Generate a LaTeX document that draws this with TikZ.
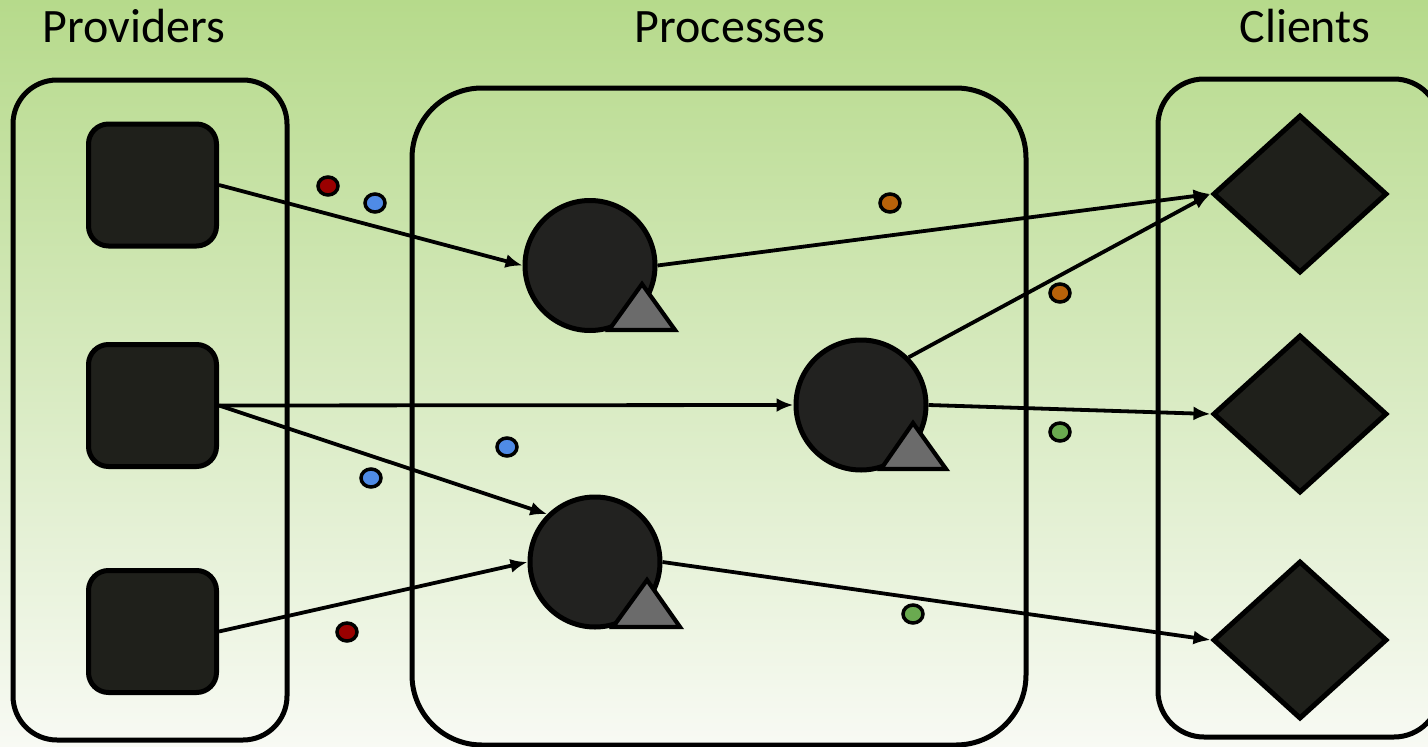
\documentclass[tikz,border=0pt]{standalone}
\usepackage{fontspec}
\setmainfont{Carlito}
\usetikzlibrary{shapes.geometric,arrows.meta}
\definecolor{bgtop}{HTML}{B6DA8B}
\definecolor{bgmid}{HTML}{DCEBC9}
\definecolor{bgbot}{HTML}{F8FAF4}
\definecolor{shapefill}{HTML}{1F201B}
\definecolor{circfill}{HTML}{222220}
\definecolor{trifill}{HTML}{6B6B6B}
\definecolor{dotred}{HTML}{990000}
\definecolor{dotblue}{HTML}{4F8BE6}
\definecolor{dotorange}{HTML}{B8620A}
\definecolor{dotgreen}{HTML}{6AAA50}
\tikzset{
  group/.style={draw=black, line width=5pt},
  provider/.style={draw=black, line width=5pt, fill=shapefill, rectangle, rounded corners=20pt, minimum width=128pt, minimum height=122pt, inner sep=0pt},
  process/.style={draw=black, line width=5pt, fill=circfill, circle, minimum size=130pt, inner sep=0pt},
  client/.style={draw=black, line width=5pt, fill=shapefill, diamond, minimum width=174pt, minimum height=158pt, inner sep=0pt},
  tri/.style={draw=black, line width=4.2pt, fill=trifill, line join=miter},
  flow/.style={draw=black, line width=3.8pt, -{Latex[length=17pt,width=14pt]}},
  msg/.style={draw=black, line width=3.5pt},
  title/.style={font=\fontsize{48}{54}\selectfont, anchor=base, inner sep=0pt}
}
\begin{document}
\begin{tikzpicture}[x=1pt,y=-1pt]
\useasboundingbox (0,0) rectangle (1428,747);
\shade[top color=bgtop, middle color=bgmid, bottom color=bgbot] (0,0) rectangle (1428,747);

% titles
\node[title] (tprov) at (134,42) {Providers};
\node[title] (tproc) at (730,42) {Processes};
\node[title] (tcli) at (1305,42) {Clients};

% group boxes
\draw[group, rounded corners=44pt] (13,80) rectangle (287,740);
\draw[group, rounded corners=70pt] (412,88) rectangle (1026,745);
\draw[group, rounded corners=46pt] (1158,79) rectangle (1440,737);

% providers
\node[provider] (s1) at (152.5,185) {};
\node[provider] (s2) at (152.5,405.5) {};
\node[provider] (s3) at (152.5,631.5) {};

% processes
\node[process] (c1) at (590,265.5) {};
\node[process] (c2) at (861,405) {};
\node[process] (c3) at (595,562) {};

% triangles
\draw[tri] (642,284) -- (675,330) -- (609,330) -- cycle;
\draw[tri] (913,423) -- (946,469) -- (881,469) -- cycle;
\draw[tri] (647,580) -- (680,627) -- (613,627) -- cycle;

% clients
\node[client] (d1) at (1300,194) {};
\node[client] (d2) at (1300,414) {};
\node[client] (d3) at (1300,640) {};

% connectors
\draw[flow] (s1.east) -- (c1.west);
\draw[flow] (s2.east) -- (c2.west);
\draw[flow] (s2.east) -- (c3.north west);
\draw[flow] (s3.east) -- (c3.west);
\draw[flow] (c1.east) -- (d1.west);
\draw[flow] (c2.north east) -- (d1.west);
\draw[flow] (c2.east) -- (d2.west);
\draw[flow] (c3.east) -- (d3.west);

% messages
\filldraw[msg, fill=dotred] (328,186) ellipse (10pt and 9pt);
\filldraw[msg, fill=dotblue] (375,203) ellipse (10pt and 9pt);
\filldraw[msg, fill=dotorange] (890,203) ellipse (10pt and 9pt);
\filldraw[msg, fill=dotorange] (1060,293) ellipse (10pt and 9pt);
\filldraw[msg, fill=dotgreen] (1060,432) ellipse (10pt and 9pt);
\filldraw[msg, fill=dotblue] (507,447) ellipse (10pt and 9pt);
\filldraw[msg, fill=dotblue] (371,478) ellipse (10pt and 9pt);
\filldraw[msg, fill=dotred] (347,632) ellipse (10pt and 9pt);
\filldraw[msg, fill=dotgreen] (913,614) ellipse (10pt and 9pt);
\end{tikzpicture}
\end{document}
